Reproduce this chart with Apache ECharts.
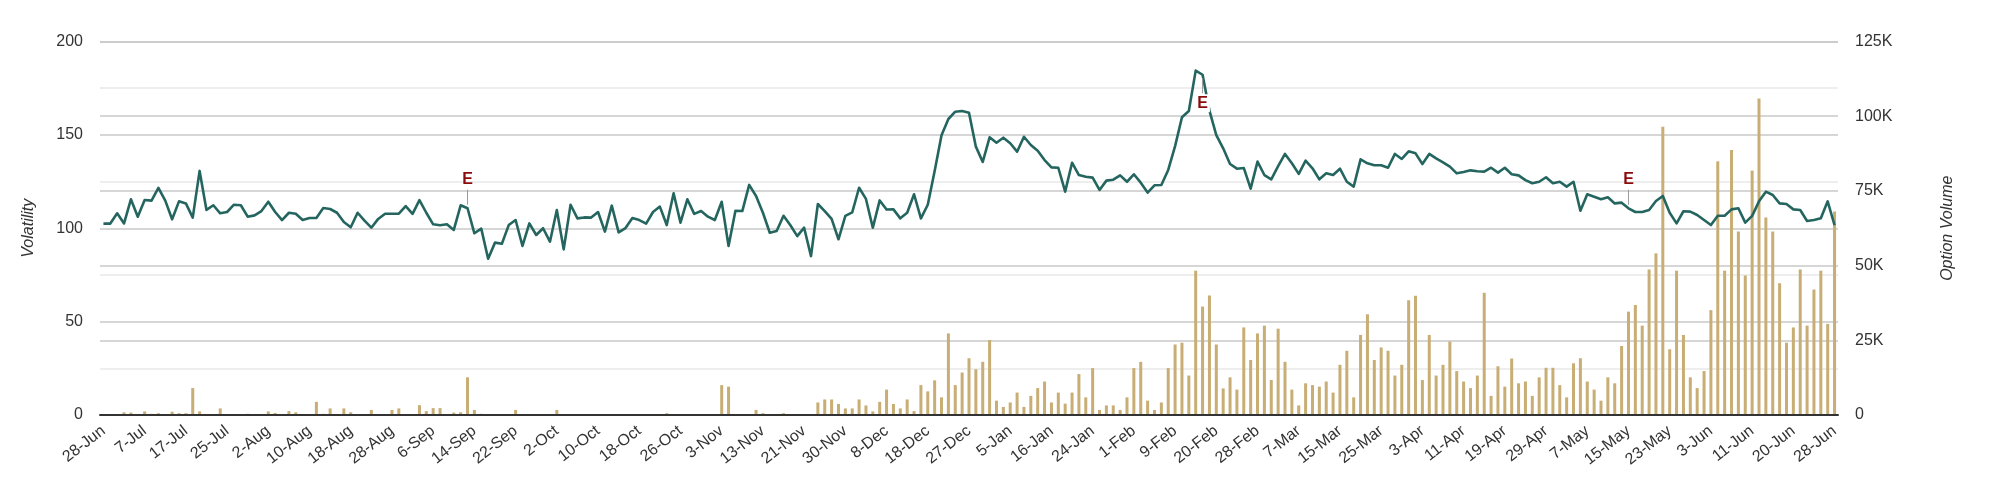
<!DOCTYPE html>
<html>
<head>
<meta charset="utf-8">
<script src="https://cdn.jsdelivr.net/npm/echarts@6/dist/echarts.min.js"></script>
<style>
  html, body { margin: 0; padding: 0; background: #fff; }
  #chart { width: 2000px; height: 488px; }
</style>
</head>
<body>
<div id="chart"></div>
<script>
// tick labels, one every 6th trading day
const tickLabels = ['28-Jun','7-Jul','17-Jul','25-Jul','2-Aug','10-Aug','18-Aug','28-Aug','6-Sep','14-Sep',
  '22-Sep','2-Oct','10-Oct','18-Oct','26-Oct','3-Nov','13-Nov','21-Nov','30-Nov','8-Dec','18-Dec','27-Dec',
  '5-Jan','16-Jan','24-Jan','1-Feb','9-Feb','20-Feb','28-Feb','7-Mar','15-Mar','25-Mar','3-Apr','11-Apr',
  '19-Apr','29-Apr','7-May','15-May','23-May','3-Jun','11-Jun','20-Jun','28-Jun'];
const labelStep = 6;

const volatility = [
  102.5,102.5,108.0,102.6,115.5,106.2,115.1,114.8,121.6,114.8,104.8,114.4,113.3,105.7,130.7,109.8,112.3,108.0,108.7,112.6,
  112.3,106.2,106.9,109.2,114.2,108.7,104.4,108.3,107.8,104.4,105.5,105.5,110.8,110.3,108.3,103.3,100.5,108.3,104.1,100.3,
  105.0,107.8,107.8,107.8,111.9,107.7,115.1,108.3,102.1,101.6,102.1,99.1,112.3,110.7,97.3,99.8,83.7,92.3,91.7,101.7,
  104.4,90.5,102.6,96.4,100.0,92.8,109.8,88.7,112.6,105.3,105.8,105.7,108.7,98.2,112.1,97.8,100.1,105.5,104.4,102.5,
  108.7,111.6,101.7,118.7,103.0,115.5,107.7,109.2,106.2,104.4,114.2,90.5,109.4,109.2,123.2,117.3,108.3,97.6,98.5,106.7,
  101.6,95.8,100.3,85.1,113.0,109.2,105.0,94.1,106.6,108.5,121.7,115.7,100.3,114.9,110.0,110.1,105.3,108.3,118.2,105.3,
  112.6,130.7,149.8,158.5,162.4,162.8,161.9,143.7,135.5,148.7,145.8,148.5,145.5,141.0,149.0,144.6,141.5,136.5,132.6,132.4,
  119.6,135.1,128.5,127.6,127.1,120.5,125.5,126.0,128.3,124.9,128.9,124.4,119.1,123.0,123.2,131.2,144.0,159.4,162.8,184.4,
  182.2,163.0,149.9,142.8,134.4,131.9,132.3,121.2,135.7,128.5,126.2,133.3,139.8,134.8,129.1,136.2,132.1,126.2,129.4,128.5,
  131.9,124.9,122.3,136.9,134.8,133.7,133.7,132.4,139.8,137.1,141.2,140.1,134.4,139.8,137.4,135.3,133.0,129.4,130.1,131.0,
  130.5,130.3,132.4,129.8,132.4,128.9,128.3,125.8,124.1,124.9,127.3,124.1,124.9,122.3,124.9,109.4,118.2,116.9,115.5,116.6,
  113.3,113.7,110.7,108.7,108.7,109.8,114.6,117.3,108.3,102.6,109.1,108.9,107.1,104.4,101.7,106.7,106.7,110.1,110.7,103.0,
  106.6,114.4,119.6,117.8,113.3,113.0,110.1,109.8,103.9,104.4,105.3,114.4,101.6
];

// option volume, thousands
const optionVolume = [
  0,0,0.3,0.9,0.8,0,1.2,0.4,0.6,0,1.1,0.6,0.6,9.0,1.2,0.3,0,2.2,0.3,0,
  0,0.4,0,0,1.2,0.7,0,1.3,0.9,0,0,4.4,0.4,2.2,0,2.2,0.9,0.3,0,1.7,
  0,0,1.7,2.2,0,0,3.3,1.3,2.3,2.3,0,0.8,0.9,12.6,1.7,0.4,0,0,0,0.3,
  1.7,0,0.3,0,0,0,1.7,0,0,0,0,0,0,0,0.3,0,0,0,0,0,
  0,0,0.6,0,0,0,0.3,0,0,0,10.0,9.5,0,0,0,1.7,0.6,0,0,0.6,
  0.3,0.3,0,0,4.2,5.2,5.2,3.7,2.2,2.2,5.2,3.2,1.2,4.4,8.5,3.7,2.2,5.2,1.3,10.0,
  7.9,11.6,5.9,27.3,10.0,14.2,19.0,15.3,17.8,25.1,4.8,2.7,4.2,7.5,2.7,6.4,9.0,11.2,4.2,7.5,
  3.8,7.5,13.7,5.9,15.7,1.7,3.2,3.2,1.7,5.9,15.7,17.8,4.8,1.7,4.2,15.7,23.6,24.2,13.2,48.3,
  36.3,40.0,23.6,8.9,12.6,8.5,29.3,18.4,27.3,29.9,11.7,28.9,17.8,8.5,3.2,10.6,10.0,9.5,11.2,7.5,
  16.8,21.5,5.9,26.8,33.7,18.4,22.6,21.5,13.2,16.8,38.4,39.9,11.7,26.8,13.2,16.8,24.6,14.7,11.2,9.0,
  13.2,40.9,6.4,16.3,9.5,18.9,10.6,11.2,6.4,12.6,15.8,15.8,10.0,5.9,17.3,19.0,11.2,8.5,4.8,12.6,
  10.6,23.1,34.6,36.8,29.9,48.7,54.1,96.5,22.0,48.3,26.8,12.6,9.0,14.7,35.1,84.9,48.3,88.7,61.4,46.7,
  81.8,105.9,66.1,61.4,44.1,24.2,29.3,48.7,29.9,42.0,48.3,30.5,68.1
];

// earnings days (index into the series) and which side the "E" sits on
const earningsIdx = [53, 160, 222];
const earningsSide = ['top', 'bottom', 'top'];

const FONT = '"Liberation Sans", Arial, sans-serif';
const TEXT = '#333';

const categories = volatility.map((_, i) => (i % labelStep === 0 ? tickLabels[i / labelStep] : ''));

const chart = echarts.init(document.getElementById('chart'), null, { renderer: 'canvas' });

chart.setOption({
  animation: false,
  textStyle: { fontFamily: FONT },
  grid: { left: 100, right: 162, top: 41.5, bottom: 73 },
  xAxis: {
    type: 'category',
    data: categories,
    boundaryGap: true,
    axisLine: { show: true, lineStyle: { color: '#333', width: 2 } },
    axisTick: { show: false },
    axisLabel: {
      interval: labelStep - 1,
      rotate: 38,
      margin: 14,
      fontSize: 16,
      color: TEXT,
      fontFamily: FONT
    },
    splitLine: { show: false },
    z: 5
  },
  yAxis: [{
    type: 'value',
    min: 0, max: 200, interval: 50,
    name: 'Volatility',
    nameLocation: 'middle',
    nameRotate: 90,
    nameGap: 63,
    nameTextStyle: { fontSize: 16, fontStyle: 'italic', color: TEXT, fontFamily: FONT },
    axisLine: { show: false },
    axisTick: { show: false },
    axisLabel: { fontSize: 16, color: TEXT, margin: 17, fontFamily: FONT },
    splitLine: { lineStyle: { color: '#c9c9c9', width: 1.5 } },
    minorTick: { show: false, splitNumber: 2 },
    minorSplitLine: { show: true, lineStyle: { color: '#e9e9e9', width: 1.5 } }
  }, {
    type: 'value',
    min: 0, max: 125, interval: 25,
    name: 'Option Volume',
    nameLocation: 'middle',
    nameRotate: 90,
    nameGap: 102,
    nameTextStyle: { fontSize: 16, fontStyle: 'italic', color: TEXT, fontFamily: FONT },
    axisLine: { show: false },
    axisTick: { show: false },
    axisLabel: {
      fontSize: 16, color: TEXT, margin: 17, fontFamily: FONT,
      formatter: v => (v === 0 ? '0' : v + 'K')
    },
    splitLine: { lineStyle: { color: '#c9c9c9', width: 1.5 } }
  }],
  series: [{
    name: 'Option Volume',
    type: 'bar',
    yAxisIndex: 1,
    data: optionVolume,
    barWidth: 3,
    itemStyle: { color: '#c8ad74' },
    z: 2
  }, {
    name: 'Volatility',
    type: 'line',
    yAxisIndex: 0,
    data: volatility,
    showSymbol: false,
    symbol: 'none',
    lineStyle: { color: '#24665f', width: 2.6, join: 'round' },
    z: 3,
    markPoint: {
      silent: true,
      data: earningsIdx.map((idx, k) => ({
        coord: [idx, volatility[idx]],
        symbol: 'rect',
        symbolSize: [1, 15],
        symbolOffset: [0, earningsSide[k] === 'top' ? -11 : 11],
        itemStyle: { color: '#9a9a9a' },
        label: {
          show: true,
          formatter: 'E',
          position: earningsSide[k],
          distance: 1,
          color: '#8b0a0a',
          fontWeight: 'bold',
          fontSize: 16,
          fontFamily: FONT,
          backgroundColor: earningsSide[k] === 'bottom' ? '#fff' : 'transparent',
          padding: [1, 2]
        }
      }))
    }
  }]
});
</script>
</body>
</html>
